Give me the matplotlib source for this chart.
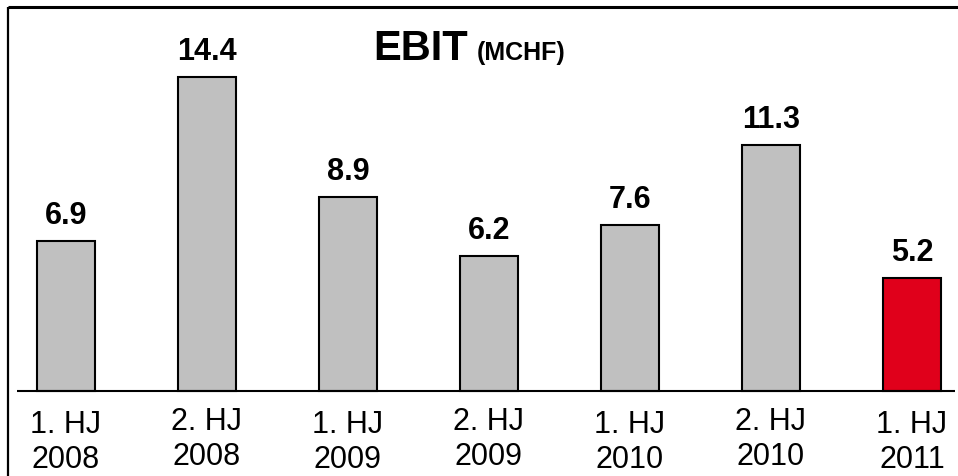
import matplotlib
matplotlib.use("Agg")
import matplotlib.pyplot as plt
from matplotlib.lines import Line2D

plt.rcParams['font.family'] = ['Liberation Sans', 'DejaVu Sans']

halves = ["1. HJ", "2. HJ", "1. HJ", "2. HJ", "1. HJ", "2. HJ", "1. HJ"]
years = ["2008", "2008", "2009", "2009", "2010", "2010", "2011"]
values = [6.9, 14.4, 8.9, 6.2, 7.6, 11.3, 5.2]
value_labels = ["6.9", "14.4", "8.9", "6.2", "7.6", "11.3", "5.2"]
colors = ["#C0C0C0"] * 6 + ["#E0001B"]

W, H, DPI = 958, 477, 100
fig = plt.figure(figsize=(W / DPI, H / DPI), dpi=DPI)
fig.patch.set_facecolor("white")
ax = fig.add_axes([0, 0, 1, 1])
ax.set_axis_off()

# pixel mapping
unit_x = 141.0
x0 = 66.0
xmin = -x0 / unit_x
xmax = xmin + W / unit_x
unit_y = 21.8
base_px = 392.0
ymin = -(H - base_px) / unit_y
ymax = ymin + H / unit_y
ax.set_xlim(xmin, xmax)
ax.set_ylim(ymin, ymax)

xs = list(range(len(values)))
ax.bar(xs, values, width=58 / unit_x, color=colors, edgecolor="black",
       linewidth=1.5, zorder=2)

# baseline
ax.plot([xmin + 17 / unit_x, xmin + 955 / unit_x], [0, 0], color="black",
        lw=1.5, zorder=3, solid_capstyle="butt")

for x, v, lab in zip(xs, values, value_labels):
    ax.annotate(lab, (x, v), xytext=(0, 13), textcoords="offset points",
                ha="center", va="baseline", fontsize=22, fontweight="bold")

for i, (x, h, yr) in enumerate(zip(xs, halves, years)):
    off = 2.2 if i % 2 == 0 else 0
    ax.annotate(h, (x, 0), xytext=(0, -27.5 - off), textcoords="offset points",
                ha="center", va="baseline", fontsize=22)
    ax.annotate(yr, (x, 0), xytext=(0, -52.5 - off), textcoords="offset points",
                ha="center", va="baseline", fontsize=22)

# title
fig.text(373 / W, 1 - 60 / H, "EBIT", ha="left", va="baseline",
         fontsize=30, fontweight="bold")
fig.text(477 / W, 1 - 60 / H, "(MCHF)", ha="left", va="baseline",
         fontsize=18, fontweight="bold")

# frame lines
fig.add_artist(Line2D([8 / W, 1.0], [1 - 8 / H, 1 - 8 / H], color="black",
                      lw=2.2, transform=fig.transFigure, solid_capstyle="butt"))
fig.add_artist(Line2D([8 / W, 8 / W], [1 - 8 / H, 0], color="black",
                      lw=1.6, transform=fig.transFigure, solid_capstyle="butt"))

fig.savefig("out.png", dpi=DPI)
